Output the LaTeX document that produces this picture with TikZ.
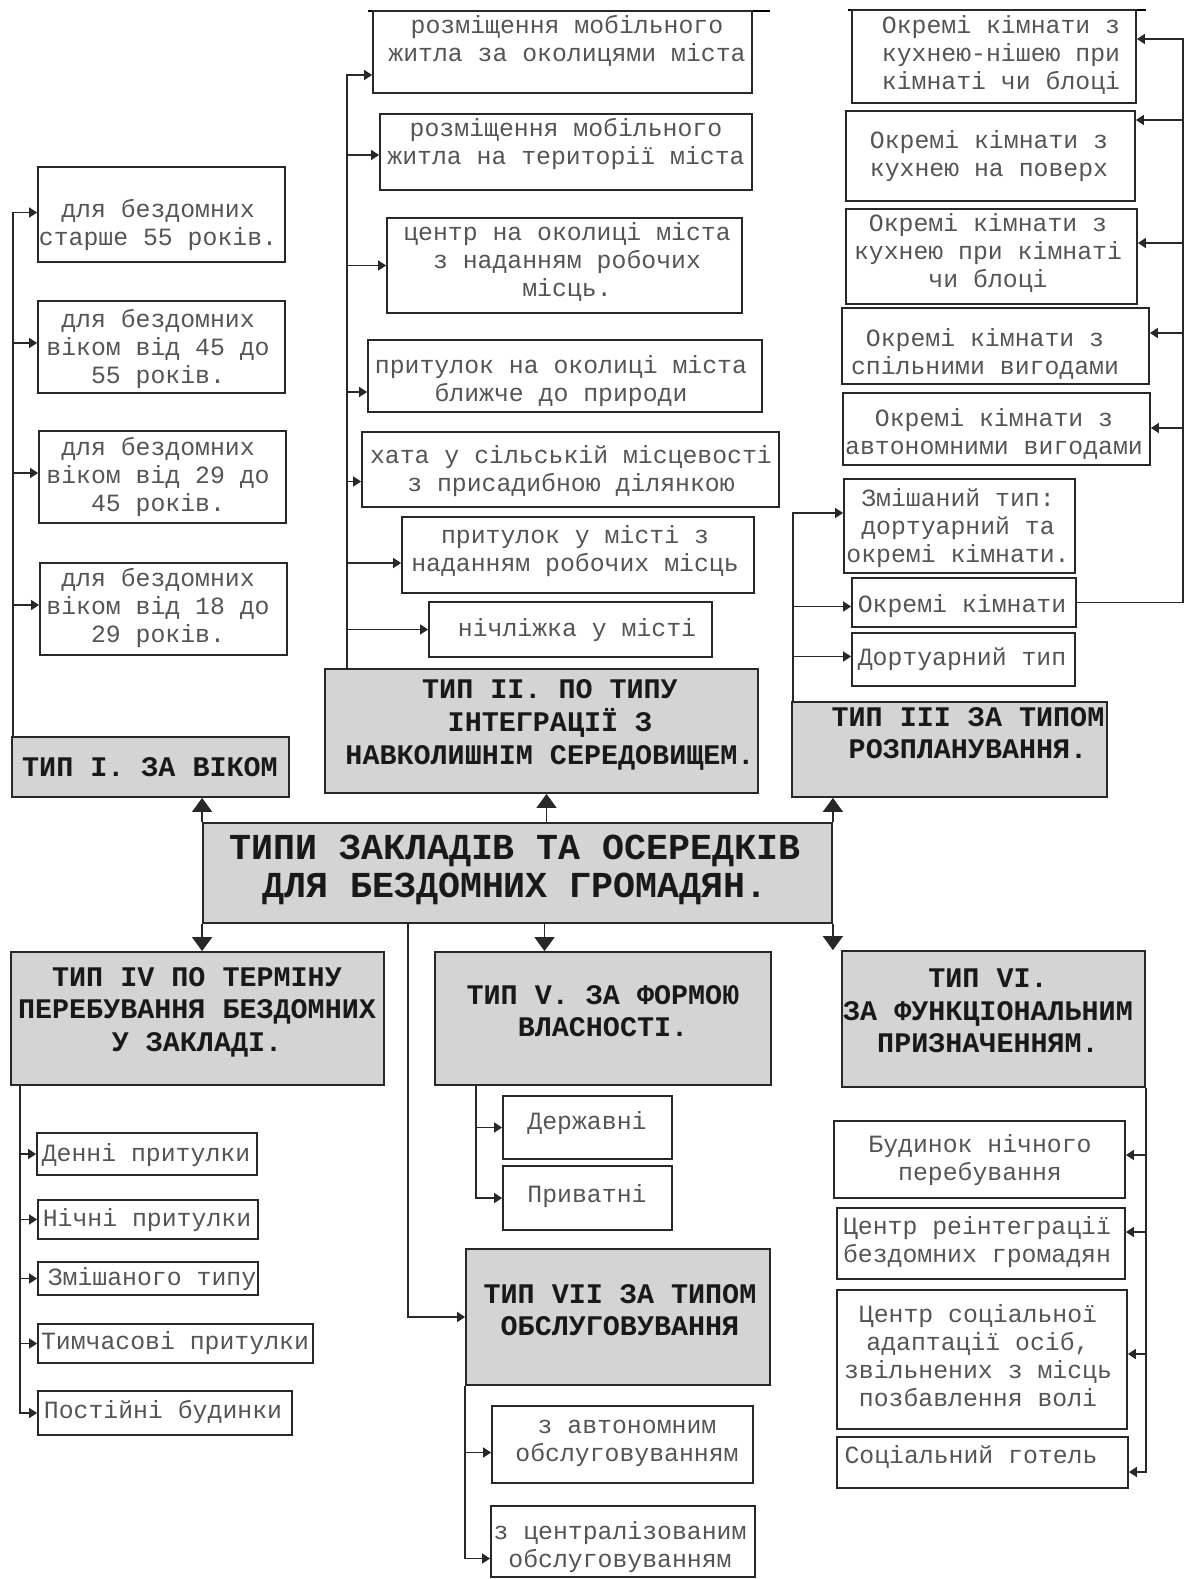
\documentclass[tikz,border=0pt]{standalone}
\usepackage{fontspec}
\newfontfamily\mono{Liberation Mono}
\usetikzlibrary{fit,calc,arrows.meta}
\definecolor{ln}{RGB}{40,40,40}
\definecolor{tx}{RGB}{85,85,85}
\definecolor{htx}{RGB}{25,25,25}
\definecolor{hfill}{RGB}{212,212,212}
\newcommand\bx[9]{%
  \node[#2,fit={(#3,#4)(#5,#6)}] (#1) {};
  \node[#2txt] (#1t) at (#7,#8) {#9};}
\begin{document}
\begin{tikzpicture}[x=0.5pt,y=-0.5pt,
  box/.style={draw=ln,line width=0.9pt,fill=white,inner sep=0pt},
  boxtxt/.style={text=tx,align=center,inner sep=0pt,font={\mono\fontsize{12.4}{14}\selectfont}},
  hbox/.style={draw=ln,line width=0.9pt,fill=hfill,inner sep=0pt},
  hboxtxt/.style={text=htx,align=center,inner sep=0pt,font={\mono\bfseries\fontsize{14.2}{16.3}\selectfont}},
  cbox/.style={hbox},
  cboxtxt/.style={text=htx,align=center,inner sep=0pt,font={\mono\bfseries\fontsize{18.3}{19}\selectfont}},
  conn/.style={draw=ln,line width=0.8pt},
  sarr/.style={conn,-{Triangle[width=5pt,length=4pt]}},
  barr/.style={conn,-{Triangle[width=10pt,length=7pt]}}
]
\fill[white] (0,0) rectangle (1184,1579);
\useasboundingbox (0,0) rectangle (1184,1579);

% top rules
\draw[conn,draw=black,line width=1pt] (368,11) -- (770,11);
\draw[conn,draw=black,line width=1pt] (848,10) -- (1146,10);

% ---------- Type I ----------
\bx{T1}{hbox}{12}{737}{289}{797}{150}{767}{ТИП I. ЗА ВІКОМ}
\bx{L1}{box}{38}{167}{285}{262}{158}{225}{для бездомних\\старше 55 років.}
\bx{L2}{box}{38}{301}{285}{393}{158}{349}{для бездомних\\віком від 45 до\\55 років.}
\bx{L3}{box}{39}{431}{286}{523}{158}{477}{для бездомних\\віком від 29 до\\45 років.}
\bx{L4}{box}{40}{563}{287}{655}{158}{608}{для бездомних\\віком від 18 до\\29 років.}

% ---------- Type II ----------
\bx{A1}{box}{373}{11}{752}{93}{567}{41}{розміщення мобільного\\житла за околицями міста}
\bx{A2}{box}{380}{114}{752}{190}{566}{144}{розміщення мобільного\\житла на території міста}
\bx{A3}{box}{387}{218}{742}{313}{567}{262}{центр на околиці міста\\з наданням робочих\\місць.}
\bx{A4}{box}{368}{340}{762}{412}{561}{381}{притулок на околиці міста\\ближче до природи}
\bx{A5}{box}{362}{432}{779}{507}{571}{471}{хата у сільській місцевості\\з присадибною ділянкою}
\bx{A6}{box}{402}{517}{754}{593}{575}{551}{притулок у місті з\\наданням робочих місць}
\bx{A7}{box}{429}{602}{712}{657}{577}{630}{нічліжка у місті}
\bx{T2}{hbox}{325}{669}{758}{793}{550}{725}{ТИП II. ПО ТИПУ\\ІНТЕГРАЦІЇ З\\НАВКОЛИШНІМ СЕРЕДОВИЩЕМ.}

% ---------- Type III ----------
\bx{R1}{box}{852}{10}{1136}{103}{1001}{55}{Окремі кімнати з\\кухнею-нішею при\\кімнаті чи блоці}
\bx{R2}{box}{846}{111}{1135}{201}{989}{156}{Окремі кімнати з\\кухнею на поверх}
\bx{R3}{box}{846}{209}{1137}{304}{988}{253}{Окремі кімнати з\\кухнею при кімнаті\\чи блоці}
\bx{R4}{box}{842}{308}{1149}{384}{985}{354}{Окремі кімнати з\\спільними вигодами}
\bx{R5}{box}{843}{393}{1150}{465}{994}{434}{Окремі кімнати з\\автономними вигодами}
\bx{R6}{box}{844}{479}{1075}{573}{958}{528}{Змішаний тип:\\дортуарний та\\окремі кімнати.}
\bx{R7}{box}{852}{578}{1076}{627}{962}{606}{Окремі кімнати}
\bx{R8}{box}{852}{633}{1075}{686}{962}{659}{Дортуарний тип}
\bx{T3}{hbox}{792}{702}{1107}{797}{968}{733}{ТИП III ЗА ТИПОМ\\РОЗПЛАНУВАННЯ.}

% ---------- Centre ----------
\bx{C}{cbox}{203}{823}{832}{923}{515}{870}{ТИПИ ЗАКЛАДІВ ТА ОСЕРЕДКІВ\\ДЛЯ БЕЗДОМНИХ ГРОМАДЯН.}

% ---------- Row 2 ----------
\bx{T4}{hbox}{11}{952}{384}{1085}{197}{1012}{ТИП IV ПО ТЕРМІНУ\\ПЕРЕБУВАННЯ БЕЗДОМНИХ\\У ЗАКЛАДІ.}
\bx{T5}{hbox}{435}{952}{771}{1085}{603}{1011}{ТИП V. ЗА ФОРМОЮ\\ВЛАСНОСТІ.}
\bx{T6}{hbox}{842}{951}{1145}{1087}{988}{1011}{ТИП VI.\\ЗА ФУНКЦІОНАЛЬНИМ\\ПРИЗНАЧЕННЯМ.}
\bx{T7}{hbox}{466}{1249}{770}{1385}{620}{1310}{ТИП VII ЗА ТИПОМ\\ОБСЛУГОВУВАННЯ}

% Type IV children
\bx{D1}{box}{37}{1133}{257}{1175}{146}{1155}{Денні притулки}
\bx{D2}{box}{38}{1200}{258}{1239}{147}{1220}{Нічні притулки}
\bx{D3}{box}{38}{1262}{258}{1295}{152}{1279}{Змішаного типу}
\bx{D4}{box}{38}{1324}{313}{1363}{175}{1343}{Тимчасові притулки}
\bx{D5}{box}{38}{1391}{292}{1435}{163}{1412}{Постійні будинки}

% Type V children
\bx{V1}{box}{503}{1096}{672}{1159}{587}{1123}{Державні}
\bx{V2}{box}{503}{1166}{672}{1230}{587}{1196}{Приватні}

% Type VII children
\bx{S1}{box}{492}{1406}{753}{1483}{627}{1443}{з автономним\\обслуговуванням}
\bx{S2}{box}{491}{1506}{755}{1577}{620}{1547}{з централізованим\\обслуговуванням}

% Type VI children
\bx{F1}{box}{834}{1121}{1125}{1198}{980}{1160}{Будинок нічного\\перебування}
\bx{F2}{box}{837}{1208}{1125}{1279}{977}{1242}{Центр реінтеграції\\бездомних громадян}
\bx{F3}{box}{837}{1290}{1127}{1429}{978}{1356}{Центр соціальної\\адаптації осіб,\\звільнених з місць\\позбавлення волі}
\bx{F4}{box}{837}{1437}{1128}{1488}{971}{1457}{Соціальний готель}

% ---------- connectors ----------
% central
\draw[barr] (C.north west) -- (C.north west |- T1.south);
\draw[barr] (C.south west) -- (C.south west |- T4.north);
\coordinate (cu) at ($(C.north)+(29,0)$);
\draw[barr] (cu) -- (cu |- T2.south);
\coordinate (cd) at ($(C.south)+(27,0)$);
\draw[barr] (cd) -- (cd |- T5.north);
\draw[barr] (C.north east) -- (C.north east |- T3.south);
\draw[barr] (C.south east) -- (C.south east |- T6.north);
\draw[sarr] ($(C.south west)+(206,0)$) |- (T7.west);

% Type I
\coordinate (t1) at ($(T1.north west)+(2,0)$);
\draw[sarr] (t1) |- ([shift={(0,-2)}]L1.west);
\draw[sarr] (t1) |- ([shift={(0,-4)}]L2.west);
\draw[sarr] (t1) |- ([shift={(0,-4)}]L3.west);
\draw[sarr] (t1) |- ([shift={(0,-4)}]L4.west);

% Type II
\coordinate (t2) at ($(T2.north west)+(23,0)$);
\draw[sarr] (t2) |- ([shift={(0,23)}]A1.west);
\draw[sarr] (t2) |- ([shift={(0,3)}]A2.west);
\draw[sarr] (t2) |- (A3.west);
\draw[sarr] (t2) |- ([shift={(0,16)}]A4.west);
\draw[sarr] (t2) |- ([shift={(0,12)}]A5.west);
\draw[sarr] (t2) |- ([shift={(0,8)}]A6.west);
\draw[sarr] (t2) |- (A7.west);

% Type III
\coordinate (t3) at ($(T3.north west)+(2,0)$);
\draw[sarr] (t3) |- ([shift={(0,-13)}]R6.west);
\draw[sarr] (t3) |- ([shift={(0,4)}]R7.west);
\draw[sarr] (t3) |- ([shift={(0,-3)}]R8.west);
\draw[conn] (R7.east) -- ++(106,0) coordinate (rc);
\draw[sarr] (rc) |- ([shift={(0,-17.5)}]R1.east);
\draw[sarr] (rc) |- ([shift={(0,-36)}]R2.east);
\draw[sarr] (rc) |- ([shift={(0,-13.5)}]R3.east);
\draw[sarr] (rc) |- ([shift={(0,-13)}]R4.east);
\draw[sarr] (rc) |- ([shift={(0,-1)}]R5.east);

% Type IV
\coordinate (t4) at ($(T4.south west)+(10,0)$);
\draw[sarr] (t4) |- (D1.west);
\draw[sarr] (t4) |- (D2.west);
\draw[sarr] (t4) |- (D3.west);
\draw[sarr] (t4) |- (D4.west);
\draw[sarr] (t4) |- (D5.west);

% Type V
\coordinate (t5) at ($(T5.south west)+(42,0)$);
\draw[sarr] (t5) |- (V1.west);
\draw[sarr] (t5) |- (V2.west);

% Type VII
\coordinate (t7) at (T7.south west);
\draw[sarr] (t7) |- ([shift={(0,8)}]S1.west);
\draw[sarr] (t7) |- ([shift={(0,17)}]S2.west);

% Type VI
\coordinate (t6) at (T6.south east);
\draw[sarr] (t6) |- ([shift={(0,-4.5)}]F1.east);
\draw[sarr] (t6) |- ([shift={(0,-11.5)}]F2.east);
\draw[sarr] (t6) |- ([shift={(0,-5.5)}]F3.east);
\draw[sarr] (t6) |- ([shift={(0,9.5)}]F4.east);
\end{tikzpicture}
\end{document}
